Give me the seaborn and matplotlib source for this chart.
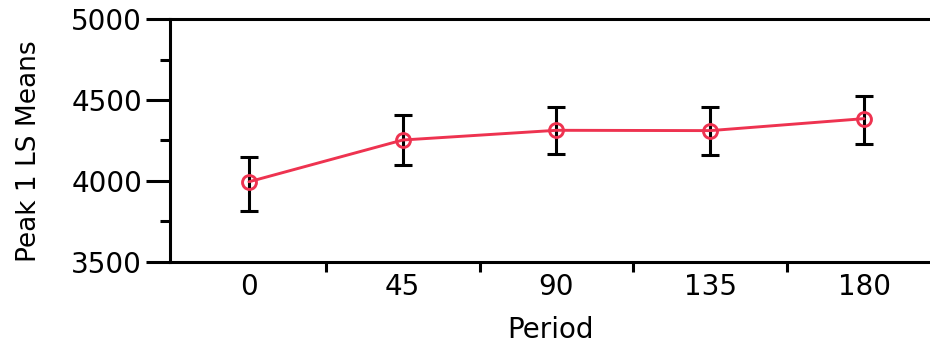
import matplotlib
matplotlib.use('Agg')
import matplotlib.pyplot as plt
import seaborn as sns
import pandas as pd
import numpy as np
from matplotlib.ticker import FixedLocator

# Dados
periodos = [0, 45, 90, 135, 180]
medias = [3995, 4253, 4313, 4311, 4385]
ic_sup = [4148, 4407, 4457, 4455, 4527]
ic_inf = [3815, 4099, 4165, 4163, 4230]

sns.set_style('white')
plt.rcParams['font.family'] = ['DejaVu Sans']
plt.rcParams['text.color'] = 'black'
plt.rcParams['axes.labelcolor'] = 'black'
plt.rcParams['xtick.color'] = 'black'
plt.rcParams['ytick.color'] = 'black'

df = pd.DataFrame({'Period': periodos, 'Mean': medias})
linha = '#EE3350'

fig = plt.figure(figsize=(9.3, 3.53), dpi=100)
ax = fig.add_axes([0.1828, 0.258, 0.8172, 0.688])

yerr = [np.array(medias) - np.array(ic_inf), np.array(ic_sup) - np.array(medias)]
ax.errorbar(periodos, medias, yerr=yerr, fmt='none', ecolor='black',
            elinewidth=2.2, capsize=6.5, capthick=2.2, zorder=2)
sns.lineplot(data=df, x='Period', y='Mean', ax=ax, color=linha, linewidth=2.1,
             marker='o', markersize=10, markerfacecolor='none',
             markeredgecolor=linha, markeredgewidth=2.1, zorder=3)

ax.set_xlim(-23.1, 199.3)
ax.set_ylim(3500, 5000)
ax.set_xticks(periodos)
ax.set_yticks([3500, 4000, 4500, 5000])
ax.xaxis.set_minor_locator(FixedLocator([22.5, 67.5, 112.5, 157.5]))
ax.yaxis.set_minor_locator(FixedLocator([3750, 4250, 4750]))
ax.tick_params(axis='x', which='major', length=0, labelsize=20, pad=8)
ax.tick_params(axis='x', which='minor', length=7, width=2.2, direction='out')
ax.tick_params(axis='y', which='major', length=17, width=2.2, labelsize=20, pad=3)
ax.tick_params(axis='y', which='minor', length=7, width=2.2)
ax.tick_params(which='both', bottom=True, left=True)

for lado in ['left', 'bottom', 'top']:
    ax.spines[lado].set_linewidth(2.2)
    ax.spines[lado].set_color('black')
ax.spines['right'].set_visible(False)

ax.set_xlabel('Period', fontsize=20, labelpad=11)
ax.set_ylabel('Peak 1 LS Means', fontsize=19)
ax.yaxis.set_label_coords(-0.168, 0.457)

fig.savefig('out.png', dpi=100, facecolor='white')
